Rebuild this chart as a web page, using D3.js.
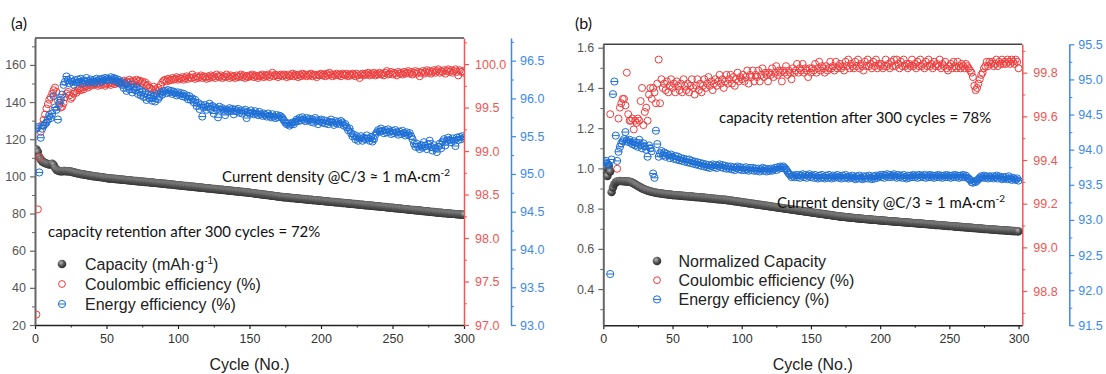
<!DOCTYPE html>
<html>
<head>
<meta charset="utf-8">
<script src="https://cdn.jsdelivr.net/npm/d3@7/dist/d3.min.js"></script>
<style>
body { margin: 0; background: #fff; }
svg { display: block; }
text { font-family: "Liberation Sans", Arial, sans-serif; }
.cal { font-family: Lato, "Open Sans", sans-serif; }
</style>
</head>
<body>
<svg id="chart" width="1106" height="374"></svg>
<script>
// ---- panel (a): capacity in mAh/g, CE and EE in % ----
const capA = [
  114.5, 113.2, 110.4, 109.1, 108.2, 107.6, 107.2, 106.9, 106.6, 106.4,
  106.5, 106.8, 106.2, 104.6, 103.6, 103.2, 102.9, 102.8, 102.8, 102.9,
  102.9, 102.8, 102.8, 102.7, 102.6, 102.4, 102.2, 102.0, 101.8, 101.6,
  101.5, 101.3, 101.2, 101.0, 100.9, 100.8, 100.6, 100.5, 100.4, 100.2,
  100.1, 100.0, 99.9, 99.8, 99.7, 99.6, 99.5, 99.4, 99.2, 99.1,
  99.0, 98.9, 98.9, 98.8, 98.7, 98.6, 98.6, 98.5, 98.4, 98.3,
  98.2, 98.2, 98.1, 98.0, 97.9, 97.9, 97.8, 97.7, 97.6, 97.5,
  97.5, 97.4, 97.3, 97.3, 97.2, 97.1, 97.0, 97.0, 96.9, 96.8,
  96.7, 96.7, 96.6, 96.5, 96.4, 96.4, 96.3, 96.2, 96.1, 96.0,
  96.0, 95.9, 95.8, 95.7, 95.7, 95.6, 95.5, 95.4, 95.3, 95.2,
  95.2, 95.1, 95.0, 94.9, 94.8, 94.8, 94.7, 94.6, 94.5, 94.4,
  94.4, 94.3, 94.2, 94.1, 94.0, 94.0, 93.9, 93.8, 93.7, 93.6,
  93.6, 93.5, 93.4, 93.3, 93.2, 93.2, 93.1, 93.0, 92.9, 92.8,
  92.8, 92.7, 92.6, 92.5, 92.4, 92.4, 92.3, 92.2, 92.1, 92.0,
  92.0, 91.9, 91.8, 91.7, 91.6, 91.6, 91.5, 91.4, 91.3, 91.2,
  91.1, 91.0, 90.9, 90.8, 90.7, 90.6, 90.5, 90.4, 90.3, 90.2,
  90.1, 90.0, 89.9, 89.8, 89.7, 89.6, 89.5, 89.4, 89.3, 89.2,
  89.1, 89.0, 88.9, 88.8, 88.8, 88.7, 88.6, 88.5, 88.4, 88.4,
  88.3, 88.2, 88.1, 88.1, 88.0, 87.9, 87.8, 87.8, 87.7, 87.6,
  87.5, 87.5, 87.4, 87.3, 87.2, 87.2, 87.1, 87.0, 86.9, 86.9,
  86.8, 86.7, 86.6, 86.6, 86.5, 86.4, 86.3, 86.3, 86.2, 86.1,
  86.0, 86.0, 85.9, 85.8, 85.7, 85.7, 85.6, 85.5, 85.4, 85.4,
  85.3, 85.2, 85.1, 85.1, 85.0, 84.9, 84.8, 84.8, 84.7, 84.6,
  84.5, 84.5, 84.4, 84.3, 84.2, 84.2, 84.1, 84.0, 83.9, 83.9,
  83.8, 83.7, 83.6, 83.6, 83.5, 83.4, 83.3, 83.2, 83.2, 83.1,
  83.0, 82.9, 82.8, 82.8, 82.7, 82.6, 82.5, 82.4, 82.4, 82.3,
  82.2, 82.1, 82.0, 82.0, 81.9, 81.8, 81.7, 81.6, 81.6, 81.5,
  81.4, 81.3, 81.2, 81.2, 81.1, 81.0, 80.9, 80.8, 80.8, 80.7,
  80.6, 80.5, 80.5, 80.4, 80.3, 80.2, 80.2, 80.1, 80.0, 80.0,
  79.9, 79.8, 79.8, 79.7, 79.6, 79.6, 79.5, 79.5, 79.4, 79.4
];
const ceA = [
  97.12, 98.33, 98.93, 99.22, 99.30, 99.36, 99.42, 99.49, 99.54, 99.59,
  99.62, 99.66, 99.70, 99.73, 99.68, 99.58, 99.53, 99.50, 99.51, 99.55,
  99.62, 99.66, 99.68, 99.64, 99.60, 99.62, 99.66, 99.69, 99.67, 99.70,
  99.72, 99.70, 99.73, 99.71, 99.74, 99.75, 99.73, 99.76, 99.75, 99.77,
  99.76, 99.78, 99.77, 99.75, 99.78, 99.76, 99.79, 99.77, 99.75, 99.78,
  99.77, 99.79, 99.76, 99.78, 99.80, 99.77, 99.79, 99.78, 99.80, 99.78,
  99.79, 99.81, 99.78, 99.80, 99.79, 99.82, 99.80, 99.78, 99.81, 99.79,
  99.82, 99.80, 99.81, 99.78, 99.80, 99.77, 99.79, 99.75, 99.76, 99.73,
  99.72, 99.70, 99.74, 99.71, 99.69, 99.73, 99.70, 99.76, 99.79, 99.81,
  99.82, 99.80, 99.83, 99.81, 99.82, 99.84, 99.82, 99.83, 99.85, 99.82,
  99.84, 99.83, 99.85, 99.82, 99.84, 99.86, 99.83, 99.85, 99.84, 99.88,
  99.85, 99.83, 99.86, 99.84, 99.85, 99.87, 99.84, 99.86, 99.85, 99.83,
  99.86, 99.84, 99.87, 99.85, 99.86, 99.84, 99.88, 99.86, 99.85, 99.87,
  99.84, 99.86, 99.85, 99.88, 99.86, 99.84, 99.87, 99.85, 99.86, 99.84,
  99.87, 99.85, 99.86, 99.88, 99.85, 99.87, 99.84, 99.86, 99.85, 99.87,
  99.86, 99.88, 99.85, 99.87, 99.86, 99.84, 99.87, 99.86, 99.88, 99.85,
  99.87, 99.86, 99.88, 99.85, 99.87, 99.90, 99.86, 99.88, 99.87, 99.85,
  99.87, 99.88, 99.86, 99.88, 99.87, 99.85, 99.88, 99.86, 99.87, 99.89,
  99.86, 99.88, 99.87, 99.85, 99.88, 99.86, 99.89, 99.87, 99.88, 99.86,
  99.88, 99.87, 99.89, 99.86, 99.88, 99.87, 99.85, 99.88, 99.87, 99.89,
  99.87, 99.88, 99.86, 99.89, 99.87, 99.90, 99.88, 99.86, 99.88, 99.87,
  99.89, 99.87, 99.88, 99.86, 99.89, 99.88, 99.87, 99.89, 99.86, 99.88,
  99.87, 99.89, 99.88, 99.86, 99.89, 99.87, 99.84, 99.88, 99.89, 99.87,
  99.89, 99.88, 99.90, 99.87, 99.89, 99.88, 99.90, 99.87, 99.89, 99.88,
  99.90, 99.88, 99.89, 99.87, 99.90, 99.92, 99.88, 99.89, 99.91, 99.88,
  99.90, 99.89, 99.87, 99.91, 99.89, 99.90, 99.88, 99.91, 99.89, 99.90,
  99.92, 99.89, 99.91, 99.88, 99.90, 99.92, 99.89, 99.91, 99.86, 99.90,
  99.92, 99.89, 99.91, 99.93, 99.90, 99.92, 99.89, 99.91, 99.93, 99.90,
  99.92, 99.94, 99.90, 99.92, 99.91, 99.93, 99.89, 99.92, 99.94, 99.91,
  99.93, 99.90, 99.92, 99.94, 99.91, 99.87, 99.93, 99.91, 99.92, 99.90
];
const eeA = [
  95.60, 95.62, 95.02, 95.48, 95.60, 95.64, 95.66, 95.68, 95.72, 95.78,
  95.74, 95.80, 96.03, 95.88, 95.85, 95.72, 95.94, 95.98, 96.05, 96.18,
  96.22, 96.29, 96.24, 96.20, 96.26, 96.22, 96.18, 96.24, 96.21, 96.25,
  96.22, 96.26, 96.20, 96.24, 96.22, 96.27, 96.23, 96.21, 96.25, 96.22,
  96.24, 96.21, 96.26, 96.23, 96.25, 96.22, 96.26, 96.24, 96.27, 96.25,
  96.26, 96.24, 96.28, 96.25, 96.27, 96.26, 96.23, 96.25, 96.20, 96.22,
  96.18, 96.14, 96.20, 96.10, 96.16, 96.12, 96.18, 96.08, 96.14, 96.11,
  96.15, 96.06, 96.12, 96.04, 96.09, 96.02, 96.07, 95.98, 96.05, 96.00,
  96.04, 95.97, 96.03, 95.96, 96.06, 95.99, 96.02, 96.08, 96.05, 96.09,
  96.10, 96.07, 96.11, 96.08, 96.10, 96.06, 96.09, 96.07, 96.04, 96.08,
  96.05, 96.07, 96.03, 96.06, 96.02, 96.04, 95.99, 96.03, 95.98, 96.00,
  95.95, 95.98, 95.90, 95.94, 95.86, 95.92, 95.76, 95.88, 95.91, 95.85,
  95.89, 95.93, 95.86, 95.90, 95.80, 95.88, 95.86, 95.75, 95.89, 95.85,
  95.87, 95.84, 95.78, 95.85, 95.83, 95.87, 95.84, 95.86, 95.79, 95.85,
  95.83, 95.86, 95.81, 95.84, 95.80, 95.83, 95.85, 95.74, 95.82, 95.80,
  95.84, 95.81, 95.79, 95.83, 95.80, 95.78, 95.82, 95.79, 95.77, 95.80,
  95.78, 95.76, 95.80, 95.77, 95.75, 95.79, 95.76, 95.74, 95.78, 95.75,
  95.77, 95.76, 95.74, 95.71, 95.68, 95.66, 95.67, 95.64, 95.66, 95.68,
  95.66, 95.69, 95.72, 95.70, 95.74, 95.71, 95.75, 95.72, 95.70, 95.74,
  95.71, 95.73, 95.69, 95.72, 95.68, 95.74, 95.71, 95.66, 95.70, 95.72,
  95.68, 95.71, 95.67, 95.70, 95.66, 95.69, 95.72, 95.68, 95.65, 95.70,
  95.67, 95.69, 95.66, 95.70, 95.68, 95.64, 95.66, 95.62, 95.58, 95.60,
  95.54, 95.50, 95.52, 95.46, 95.50, 95.44, 95.47, 95.50, 95.44, 95.48,
  95.46, 95.51, 95.47, 95.44, 95.49, 95.43, 95.46, 95.52, 95.55, 95.58,
  95.56, 95.60, 95.57, 95.54, 95.58, 95.55, 95.59, 95.56, 95.53, 95.57,
  95.54, 95.58, 95.55, 95.52, 95.56, 95.53, 95.57, 95.54, 95.51, 95.55,
  95.52, 95.54, 95.50, 95.46, 95.40, 95.36, 95.40, 95.36, 95.33, 95.38,
  95.35, 95.42, 95.37, 95.33, 95.39, 95.44, 95.36, 95.31, 95.38, 95.34,
  95.29, 95.36, 95.40, 95.34, 95.43, 95.46, 95.38, 95.44, 95.48, 95.45,
  95.42, 95.47, 95.44, 95.37, 95.48, 95.45, 95.49, 95.46, 95.50, 95.48
];

// ---- panel (b): normalized capacity, CE and EE in % ----
const capB = [
  0.990, 1.005, 0.962, 1.012, 0.985, 0.882, 0.905, 0.922, 0.931, 0.935,
  0.937, 0.938, 0.937, 0.937, 0.936, 0.936, 0.935, 0.935, 0.934, 0.932,
  0.929, 0.925, 0.921, 0.917, 0.913, 0.909, 0.905, 0.901, 0.898, 0.895,
  0.892, 0.890, 0.888, 0.886, 0.884, 0.882, 0.881, 0.879, 0.878, 0.877,
  0.876, 0.875, 0.874, 0.873, 0.872, 0.871, 0.870, 0.870, 0.869, 0.868,
  0.867, 0.867, 0.866, 0.866, 0.865, 0.864, 0.864, 0.863, 0.863, 0.862,
  0.861, 0.861, 0.860, 0.860, 0.859, 0.858, 0.858, 0.857, 0.857, 0.856,
  0.855, 0.855, 0.854, 0.853, 0.853, 0.852, 0.851, 0.851, 0.850, 0.849,
  0.848, 0.848, 0.847, 0.846, 0.846, 0.845, 0.844, 0.844, 0.843, 0.842,
  0.841, 0.840, 0.839, 0.838, 0.837, 0.836, 0.835, 0.834, 0.833, 0.832,
  0.831, 0.830, 0.829, 0.828, 0.827, 0.826, 0.825, 0.824, 0.823, 0.822,
  0.821, 0.820, 0.819, 0.818, 0.817, 0.816, 0.815, 0.814, 0.813, 0.812,
  0.811, 0.810, 0.809, 0.808, 0.807, 0.806, 0.805, 0.804, 0.803, 0.802,
  0.801, 0.800, 0.799, 0.798, 0.797, 0.796, 0.795, 0.794, 0.793, 0.792,
  0.791, 0.790, 0.789, 0.788, 0.787, 0.786, 0.785, 0.784, 0.783, 0.782,
  0.781, 0.780, 0.779, 0.778, 0.777, 0.776, 0.775, 0.774, 0.773, 0.772,
  0.771, 0.770, 0.769, 0.768, 0.767, 0.766, 0.765, 0.764, 0.763, 0.762,
  0.761, 0.760, 0.760, 0.759, 0.758, 0.757, 0.757, 0.756, 0.755, 0.754,
  0.754, 0.753, 0.752, 0.752, 0.751, 0.750, 0.750, 0.749, 0.748, 0.748,
  0.747, 0.747, 0.746, 0.745, 0.745, 0.744, 0.744, 0.743, 0.742, 0.742,
  0.741, 0.741, 0.740, 0.740, 0.739, 0.738, 0.738, 0.737, 0.737, 0.736,
  0.736, 0.735, 0.735, 0.734, 0.733, 0.733, 0.732, 0.732, 0.731, 0.731,
  0.730, 0.730, 0.729, 0.728, 0.728, 0.727, 0.727, 0.726, 0.726, 0.725,
  0.725, 0.724, 0.723, 0.723, 0.722, 0.722, 0.721, 0.721, 0.720, 0.719,
  0.719, 0.718, 0.718, 0.717, 0.717, 0.716, 0.715, 0.715, 0.714, 0.714,
  0.713, 0.713, 0.712, 0.711, 0.711, 0.710, 0.710, 0.709, 0.709, 0.708,
  0.707, 0.707, 0.706, 0.706, 0.705, 0.705, 0.704, 0.703, 0.703, 0.702,
  0.702, 0.701, 0.701, 0.700, 0.699, 0.699, 0.698, 0.698, 0.697, 0.697,
  0.696, 0.696, 0.695, 0.695, 0.694, 0.694, 0.693, 0.693, 0.692, 0.692,
  0.691, 0.691, 0.690, 0.690, 0.689, 0.689, 0.689, 0.688, 0.688, 0.687
];
// first cycles sit below the visible CE range
const ceB = [
  98.20, 98.40, 98.50, 98.55, 99.61, 98.60, 98.50, 98.60, 98.60, 99.36,
  99.59, 99.64, 99.66, 99.68, 99.68, 99.65, 99.80, 99.61, 99.58, 99.58,
  99.59, 99.54, 99.58, 99.57, 99.59, 99.58, 99.67, 99.73, 99.56, 99.62,
  99.64, 99.58, 99.70, 99.73, 99.68, 99.73, 99.71, 99.66, 99.75, 99.86,
  99.66, 99.77, 99.73, 99.75, 99.72, 99.76, 99.71, 99.74, 99.77, 99.73,
  99.75, 99.71, 99.76, 99.74, 99.72, 99.75, 99.71, 99.77, 99.74, 99.72,
  99.75, 99.71, 99.74, 99.77, 99.73, 99.70, 99.74, 99.77, 99.72, 99.75,
  99.71, 99.74, 99.77, 99.73, 99.75, 99.78, 99.74, 99.76, 99.72, 99.75,
  99.77, 99.74, 99.76, 99.79, 99.75, 99.77, 99.73, 99.76, 99.79, 99.75,
  99.77, 99.79, 99.75, 99.78, 99.74, 99.77, 99.80, 99.76, 99.78, 99.77,
  99.79, 99.76, 99.78, 99.81, 99.75, 99.79, 99.78, 99.81, 99.76, 99.79,
  99.78, 99.81, 99.76, 99.79, 99.82, 99.78, 99.80, 99.79, 99.76, 99.80,
  99.79, 99.82, 99.78, 99.80, 99.83, 99.79, 99.81, 99.80, 99.76, 99.81,
  99.80, 99.83, 99.79, 99.81, 99.80, 99.77, 99.82, 99.80, 99.81, 99.84,
  99.80, 99.82, 99.81, 99.84, 99.80, 99.82, 99.81, 99.78, 99.82, 99.80,
  99.82, 99.81, 99.84, 99.80, 99.82, 99.85, 99.81, 99.83, 99.82, 99.80,
  99.83, 99.81, 99.82, 99.85, 99.82, 99.83, 99.81, 99.85, 99.82, 99.83,
  99.84, 99.82, 99.83, 99.81, 99.85, 99.83, 99.86, 99.82, 99.84, 99.83,
  99.82, 99.85, 99.83, 99.86, 99.82, 99.84, 99.83, 99.81, 99.85, 99.83,
  99.86, 99.83, 99.84, 99.82, 99.85, 99.83, 99.86, 99.82, 99.84, 99.83,
  99.84, 99.82, 99.83, 99.86, 99.83, 99.84, 99.82, 99.85, 99.83, 99.86,
  99.83, 99.86, 99.84, 99.82, 99.85, 99.83, 99.86, 99.83, 99.84, 99.82,
  99.84, 99.83, 99.86, 99.83, 99.84, 99.82, 99.85, 99.83, 99.86, 99.83,
  99.84, 99.82, 99.85, 99.83, 99.86, 99.83, 99.84, 99.82, 99.85, 99.83,
  99.84, 99.83, 99.86, 99.82, 99.84, 99.83, 99.85, 99.82, 99.81, 99.83,
  99.84, 99.82, 99.85, 99.83, 99.82, 99.85, 99.83, 99.82, 99.84, 99.83,
  99.82, 99.84, 99.83, 99.82, 99.81, 99.80, 99.78, 99.74, 99.72, 99.73,
  99.75, 99.77, 99.79, 99.80, 99.82, 99.83, 99.85, 99.83, 99.85, 99.84,
  99.85, 99.83, 99.84, 99.86, 99.83, 99.85, 99.84, 99.86, 99.84, 99.85,
  99.84, 99.86, 99.85, 99.84, 99.86, 99.85, 99.84, 99.86, 99.85, 99.82
];
const eeB = [
  93.82, 93.84, 93.80, 93.78, 92.23, 93.86, 94.79, 94.97, 94.20, 93.84,
  93.97, 94.04, 94.09, 94.12, 94.15, 94.25, 94.13, 94.11, 94.14, 94.10,
  94.08, 94.12, 94.06, 94.10, 94.04, 94.14, 94.07, 94.02, 94.09, 94.05,
  94.00, 93.90, 94.06, 94.02, 93.98, 93.66, 93.60, 94.27, 94.08, 93.90,
  93.95, 93.98, 93.92, 93.96, 93.90, 93.94, 93.92, 93.88, 93.93, 93.90,
  93.87, 93.91, 93.86, 93.90, 93.85, 93.88, 93.84, 93.87, 93.83, 93.86,
  93.82, 93.86, 93.81, 93.84, 93.80, 93.83, 93.79, 93.82, 93.78, 93.81,
  93.77, 93.80, 93.76, 93.79, 93.75, 93.78, 93.74, 93.77, 93.79, 93.75,
  93.78, 93.74, 93.77, 93.79, 93.75, 93.78, 93.74, 93.77, 93.73, 93.76,
  93.73, 93.76, 93.72, 93.75, 93.71, 93.74, 93.76, 93.72, 93.75, 93.71,
  93.74, 93.71, 93.75, 93.72, 93.70, 93.74, 93.71, 93.74, 93.70, 93.73,
  93.70, 93.73, 93.69, 93.72, 93.74, 93.70, 93.73, 93.69, 93.72, 93.70,
  93.73, 93.70, 93.72, 93.74, 93.71, 93.75, 93.73, 93.76, 93.74, 93.76,
  93.74, 93.72, 93.69, 93.66, 93.64, 93.61, 93.63, 93.61, 93.64, 93.61,
  93.64, 93.60, 93.63, 93.65, 93.61, 93.64, 93.60, 93.63, 93.65, 93.61,
  93.63, 93.60, 93.64, 93.61, 93.59, 93.63, 93.60, 93.64, 93.61, 93.59,
  93.63, 93.60, 93.64, 93.61, 93.59, 93.63, 93.60, 93.62, 93.64, 93.60,
  93.62, 93.59, 93.63, 93.60, 93.64, 93.61, 93.59, 93.62, 93.60, 93.63,
  93.60, 93.58, 93.62, 93.59, 93.63, 93.60, 93.58, 93.62, 93.59, 93.62,
  93.59, 93.63, 93.60, 93.58, 93.62, 93.59, 93.63, 93.60, 93.62, 93.64,
  93.61, 93.64, 93.60, 93.63, 93.65, 93.61, 93.64, 93.61, 93.63, 93.65,
  93.62, 93.60, 93.64, 93.61, 93.63, 93.60, 93.64, 93.61, 93.59, 93.63,
  93.60, 93.63, 93.61, 93.64, 93.61, 93.63, 93.60, 93.64, 93.61, 93.63,
  93.61, 93.64, 93.60, 93.63, 93.61, 93.64, 93.61, 93.63, 93.60, 93.63,
  93.61, 93.64, 93.61, 93.63, 93.60, 93.63, 93.61, 93.64, 93.61, 93.63,
  93.60, 93.63, 93.61, 93.64, 93.61, 93.63, 93.60, 93.63, 93.61, 93.64,
  93.61, 93.63, 93.60, 93.59, 93.57, 93.54, 93.53, 93.55, 93.54, 93.56,
  93.58, 93.60, 93.62, 93.60, 93.63, 93.60, 93.62, 93.59, 93.62, 93.60,
  93.62, 93.59, 93.61, 93.63, 93.59, 93.62, 93.60, 93.58, 93.61, 93.59,
  93.61, 93.58, 93.62, 93.59, 93.57, 93.60, 93.58, 93.57, 93.59, 93.56
];

const cycles = d3.range(1, 301);

const xTicks = [0, 50, 100, 150, 200, 250, 300];
const capTicksA = [20, 40, 60, 80, 100, 120, 140, 160];
const ceTicksA = [97.0, 97.5, 98.0, 98.5, 99.0, 99.5, 100.0];
const eeTicksA = [93.0, 93.5, 94.0, 94.5, 95.0, 95.5, 96.0, 96.5];
const capTicksB = [0.4, 0.6, 0.8, 1.0, 1.2, 1.4, 1.6];
const ceTicksB = [98.8, 99.0, 99.2, 99.4, 99.6, 99.8];
const eeTicksB = [91.5, 92.0, 92.5, 93.0, 93.5, 94.0, 94.5, 95.0, 95.5];

const RED = '#ee3c3c', BLUE = '#1e6fd6', RED_AX = '#f25555', BLUE_AX = '#3d89e6';

const svg = d3.select('#chart');
const defs = svg.append('defs');
const ball = defs.append('radialGradient').attr('id', 'ball')
    .attr('cx', '38%').attr('cy', '35%').attr('r', '65%');
ball.append('stop').attr('offset', '0%').attr('stop-color', '#b8b8b8');
ball.append('stop').attr('offset', '55%').attr('stop-color', '#555');
ball.append('stop').attr('offset', '100%').attr('stop-color', '#2e2e2e');

// ticks between majors
const minorOf = (ticks, step, lo, hi) => {
    const out = [];
    for (let v = ticks[0] - step; v <= hi + 1e-9; v += step) {
        if (v >= lo - 1e-9 && !ticks.some(t => Math.abs(t - v) < 1e-6)) out.push(+v.toFixed(4));
    }
    return out;
};

const styleAxis = (sel, color, width) => {
    sel.select('.domain').attr('stroke', color).attr('stroke-width', width);
    sel.selectAll('.tick line').attr('stroke', color).attr('stroke-width', 1.2);
    sel.selectAll('.tick text').attr('fill', color).attr('font-size', 12.5);
};

const drawPanel = (p) => {
    const g = svg.append('g');
    const x = d3.scaleLinear().domain(p.xDomain).range([p.left, p.right]);
    const yC = d3.scaleLinear().domain(p.capDomain).range([p.bottom, p.top]);
    const yR = d3.scaleLinear().domain(p.ceDomain).range([p.bottom, p.top]);
    const yB = d3.scaleLinear().domain(p.eeDomain).range([p.bottom, p.top]);

    defs.append('clipPath').attr('id', p.id + '-clip').append('rect')
        .attr('x', p.left).attr('y', p.top)
        .attr('width', p.right - p.left).attr('height', p.bottom - p.top);

    // top frame line
    g.append('line').attr('x1', p.left).attr('x2', p.right)
        .attr('y1', p.top).attr('y2', p.top)
        .attr('stroke', '#444').attr('stroke-width', 1.5);

    // bottom axis
    const bx = g.append('g').attr('transform', `translate(0,${p.bottom})`)
        .call(d3.axisBottom(x).tickValues(xTicks).tickSize(4).tickSizeOuter(0).tickPadding(5).tickFormat(d3.format('d')));
    styleAxis(bx, '#222', 1.5);
    bx.selectAll('.tick text').attr('fill', '#333');
    g.append('g').attr('transform', `translate(0,${p.bottom})`)
        .call(d3.axisBottom(x).tickValues(minorOf(xTicks, 25, 0, p.xDomain[1])).tickSize(2.5).tickSizeOuter(0).tickFormat(''))
        .call(s => { s.select('.domain').remove(); s.selectAll('line').attr('stroke', '#222'); });

    // left axis
    const ly = g.append('g').attr('transform', `translate(${p.left},0)`)
        .call(d3.axisLeft(yC).tickValues(p.capTicks).tickSize(5).tickSizeOuter(0).tickPadding(4).tickFormat(p.capFmt));
    styleAxis(ly, '#666', 2);
    ly.selectAll('.tick text').attr('fill', '#555');
    g.append('g').attr('transform', `translate(${p.left},0)`)
        .call(d3.axisLeft(yC).tickValues(minorOf(p.capTicks, p.capMinor, p.capDomain[0], p.capDomain[1])).tickSize(3).tickSizeOuter(0).tickFormat(''))
        .call(s => { s.select('.domain').remove(); s.selectAll('line').attr('stroke', '#666'); });

    // red CE axis
    const ry = g.append('g').attr('transform', `translate(${p.right},0)`)
        .call(d3.axisRight(yR).tickValues(p.ceTicks).tickSize(5).tickSizeOuter(0).tickPadding(6).tickFormat(d3.format('.1f')));
    styleAxis(ry, RED_AX, 1.5);
    g.append('g').attr('transform', `translate(${p.right},0)`)
        .call(d3.axisRight(yR).tickValues(minorOf(p.ceTicks, p.ceMinor, p.ceDomain[0], p.ceDomain[1])).tickSize(3).tickSizeOuter(0).tickFormat(''))
        .call(s => { s.select('.domain').remove(); s.selectAll('line').attr('stroke', RED_AX); });

    // blue EE axis
    const by = g.append('g').attr('transform', `translate(${p.blueX},0)`)
        .call(d3.axisRight(yB).tickValues(p.eeTicks).tickSize(5).tickSizeOuter(0).tickPadding(4).tickFormat(d3.format('.1f')));
    styleAxis(by, BLUE_AX, 1.5);
    g.append('g').attr('transform', `translate(${p.blueX},0)`)
        .call(d3.axisRight(yB).tickValues(minorOf(p.eeTicks, 0.25, p.eeDomain[0], p.eeDomain[1])).tickSize(3).tickSizeOuter(0).tickFormat(''))
        .call(s => { s.select('.domain').remove(); s.selectAll('line').attr('stroke', BLUE_AX); });

    // markers
    const plot = g.append('g').attr('clip-path', `url(#${p.id}-clip)`);
    plot.append('g').selectAll('circle').data(p.cap).join('circle')
        .attr('cx', (d, i) => x(cycles[i])).attr('cy', d => yC(d))
        .attr('r', 4.2).attr('fill', 'url(#ball)');
    plot.append('g').selectAll('circle').data(p.ce).join('circle')
        .attr('cx', (d, i) => x(cycles[i])).attr('cy', d => yR(d))
        .attr('r', 3.5).attr('fill', 'none').attr('stroke', RED).attr('stroke-width', 1);
    const eg = plot.append('g').selectAll('g').data(p.ee).join('g')
        .attr('transform', (d, i) => `translate(${x(cycles[i])},${yB(d)})`);
    eg.append('circle').attr('r', 3.6).attr('fill', 'none').attr('stroke', BLUE).attr('stroke-width', 1);
    eg.append('line').attr('x1', -3.6).attr('x2', 3.6).attr('stroke', BLUE).attr('stroke-width', 1);

    // panel letter and x title
    g.append('text').attr('class', 'cal').attr('x', p.letterX).attr('y', 29)
        .attr('font-size', 16).attr('fill', '#111').text(p.letter);
    g.append('text').attr('x', (p.left + p.right) / 2).attr('y', 370)
        .attr('text-anchor', 'middle').attr('font-size', 16).attr('fill', '#222').text('Cycle (No.)');

    // annotations
    const cur = g.append('text').attr('class', 'cal').attr('x', p.curX).attr('y', p.curY)
        .attr('font-size', 15).attr('fill', '#111');
    cur.append('tspan').text('Current density @C/3 \u2248 1 mA\u00b7cm');
    cur.append('tspan').attr('dy', -6).attr('font-size', 10).text('-2');
    g.append('text').attr('class', 'cal').attr('x', p.retX).attr('y', p.retY)
        .attr('font-size', 15).attr('fill', '#111').text(p.retText);

    // legend
    const lg = g.append('g').attr('transform', `translate(${p.legX},${p.legY})`);
    lg.append('circle').attr('cx', 0).attr('cy', 0).attr('r', 4.3).attr('fill', 'url(#ball)');
    lg.append('circle').attr('cx', 0).attr('cy', p.legGap).attr('r', 3.4)
        .attr('fill', 'none').attr('stroke', RED).attr('stroke-width', 1);
    lg.append('circle').attr('cx', 0).attr('cy', 2 * p.legGap).attr('r', 3.6)
        .attr('fill', 'none').attr('stroke', BLUE).attr('stroke-width', 1);
    lg.append('line').attr('x1', -3.6).attr('x2', 3.6).attr('y1', 2 * p.legGap).attr('y2', 2 * p.legGap)
        .attr('stroke', BLUE).attr('stroke-width', 1);
    const t0 = lg.append('text').attr('x', p.legText).attr('y', 5.5).attr('font-size', 16).attr('fill', '#222');
    p.capLabel(t0);
    lg.append('text').attr('x', p.legText).attr('y', p.legGap + 5.5).attr('font-size', 16).attr('fill', '#222')
        .text('Coulombic efficiency (%)');
    lg.append('text').attr('x', p.legText).attr('y', 2 * p.legGap + 5.5).attr('font-size', 16).attr('fill', '#222')
        .text('Energy efficiency (%)');
};

drawPanel({
    id: 'a', letter: '(a)', letterX: 11,
    left: 35, right: 464, top: 38, bottom: 325, blueX: 511,
    xDomain: [0, 300],
    capDomain: [20, 174.5], capTicks: capTicksA, capMinor: 10, capFmt: d3.format('d'),
    ceDomain: [97.0, 100.3], ceTicks: ceTicksA, ceMinor: 0.25,
    eeDomain: [93.0, 96.8], eeTicks: eeTicksA,
    cap: capA, ce: ceA, ee: eeA,
    curX: 222, curY: 182, retX: 48, retY: 237,
    retText: 'capacity retention after 300 cycles = 72%',
    legX: 62, legY: 264, legGap: 20, legText: 23,
    capLabel: t => {
        t.append('tspan').text('Capacity (mAh\u00b7g');
        t.append('tspan').attr('dy', -6).attr('font-size', 10).text('-1');
        t.append('tspan').attr('dy', 6).text(')');
    }
});

drawPanel({
    id: 'b', letter: '(b)', letterX: 575,
    left: 603.3, right: 1022.3, top: 44.3, bottom: 325.3, blueX: 1069.3,
    xDomain: [0, 302.7],
    capDomain: [0.22, 1.617], capTicks: capTicksB, capMinor: 0.1, capFmt: d3.format('.1f'),
    ceDomain: [98.643, 99.93], ceTicks: ceTicksB, ceMinor: 0.1,
    eeDomain: [91.5, 95.5], eeTicks: eeTicksB,
    cap: capB, ce: ceB, ee: eeB,
    curX: 777, curY: 208, retX: 719, retY: 123,
    retText: 'capacity retention after 300 cycles = 78%',
    legX: 657, legY: 261, legGap: 19.2, legText: 21.5,
    capLabel: t => t.text('Normalized Capacity')
});
</script>
</body>
</html>
